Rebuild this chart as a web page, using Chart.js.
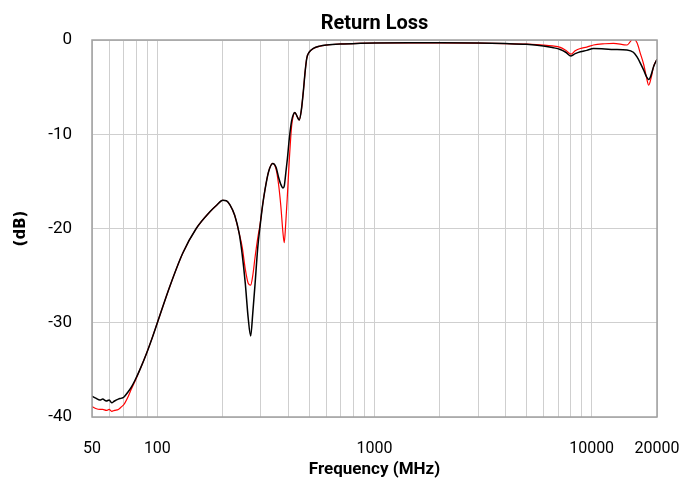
<!DOCTYPE html>
<html>
<head>
<meta charset="utf-8">
<script src="https://cdn.jsdelivr.net/npm/chart.js@4/dist/chart.umd.min.js"></script>
<style>
html,body{margin:0;padding:0;background:#fff;}
canvas{display:block;}
</style>
</head>
<body>
<canvas id="c" width="693" height="485"></canvas>
<script>
const chartTitle = "Return Loss";
const xTitle = "Frequency (MHz)";
const yTitle = "(dB)";
const xLabelTicks = [50, 100, 1000, 10000, 20000];
const xGridTicks = [50,60,70,80,90,100,200,300,400,500,600,700,800,900,1000,2000,3000,4000,5000,6000,7000,8000,9000,10000,20000];
const yTicks = [0, -10, -20, -30, -40];

const freqMHz = [50,52,54.4,56,58.2,60,61.6,63.5,66.1,68.5,70,73.5,76,78.9,83,89.3,95,100,114.3,131,151,175,188,200,208,216,227,238,246,254,262,269,275,282,290,297,305,313,325,340,352,361,370,379,384,390,397,405,415,423,430,440,450,460,470,480,488,500,523,560,603,700,860,1000,1500,2000,3000,4000,5000,6000,6600,7170,7600,8035,8400,8870,9500,10200,11500,12600,14550,15560,16180,16800,17370,17900,18320,18800,19300,20000];

const blackDB = [-37.8,-38.0,-38.2,-38.1,-38.3,-38.2,-38.5,-38.3,-38.1,-38.0,-37.9,-37.3,-36.8,-36.1,-35.0,-33.2,-31.5,-30.0,-26.1,-22.6,-20.0,-18.2,-17.5,-17.0,-17.05,-17.5,-18.6,-20.5,-22.8,-25.8,-29.5,-31.4,-29.0,-25.8,-22.0,-19.8,-17.6,-15.9,-14.0,-13.1,-13.5,-14.5,-15.3,-15.7,-15.5,-14.2,-12.6,-10.5,-8.6,-7.9,-7.7,-8.1,-8.5,-7.5,-5.5,-3.2,-1.9,-1.3,-0.9,-0.65,-0.53,-0.42,-0.35,-0.32,-0.3,-0.3,-0.33,-0.38,-0.46,-0.64,-0.8,-1.0,-1.3,-1.7,-1.45,-1.24,-1.1,-0.9,-0.95,-1.0,-1.06,-1.3,-1.8,-2.5,-3.2,-3.9,-4.2,-3.7,-2.8,-2.05];

const redDB = [-38.9,-39.1,-39.2,-39.2,-39.3,-39.2,-39.4,-39.3,-39.2,-38.9,-38.7,-37.8,-37.0,-36.2,-35.0,-33.2,-31.5,-30.0,-26.1,-22.6,-20.0,-18.2,-17.5,-17.0,-17.05,-17.5,-18.6,-20.5,-22.0,-24.3,-25.8,-26.0,-25.0,-23.0,-21.0,-19.6,-17.6,-15.9,-14.0,-13.1,-13.7,-15.2,-17.5,-20.5,-21.5,-19.5,-16.5,-12.8,-9.2,-8.0,-7.7,-8.1,-8.5,-7.5,-5.5,-3.2,-1.9,-1.3,-0.9,-0.65,-0.53,-0.42,-0.35,-0.32,-0.3,-0.3,-0.33,-0.38,-0.44,-0.53,-0.62,-0.78,-1.1,-1.5,-1.15,-0.9,-0.75,-0.53,-0.4,-0.35,-0.53,0.15,-0.3,-1.5,-2.6,-4.0,-4.8,-4.0,-2.8,-2.05];

const FONT = "'Roboto', 'Liberation Sans', sans-serif";

const frame = {
  id: 'frame',
  afterDatasetsDraw(chart) {
    const a = chart.chartArea, ctx = chart.ctx;
    ctx.save();
    ctx.strokeStyle = '#a0a0a0';
    ctx.lineWidth = 1.5;
    ctx.strokeRect(a.left, a.top, a.right - a.left, a.bottom - a.top);
    ctx.restore();
  }
};

new Chart(document.getElementById('c'), {
  type: 'line',
  data: {
    datasets: [
      {
        label: 'black',
        data: freqMHz.map((f, i) => ({x: f, y: blackDB[i]})),
        borderColor: '#000000',
        borderWidth: 1.5,
        pointRadius: 0,
        cubicInterpolationMode: 'monotone',
        fill: false
      },
      {
        label: 'red',
        data: freqMHz.map((f, i) => ({x: f, y: redDB[i]})),
        borderColor: '#ff0000',
        borderWidth: 1.2,
        pointRadius: 0,
        cubicInterpolationMode: 'monotone',
        fill: false
      }
    ]
  },
  options: {
    responsive: false,
    animation: false,
    devicePixelRatio: 1,
    layout: {padding: {left: 0, right: 36, top: 0, bottom: 0}},
    plugins: {
      legend: {display: false},
      tooltip: {enabled: false},
      title: {
        display: true,
        fullSize: false,
        text: chartTitle,
        color: '#000',
        font: {family: FONT, size: 20, weight: 'bold'},
        padding: {top: 12, bottom: 4}
      }
    },
    scales: {
      x: {
        type: 'logarithmic',
        min: 50,
        max: 20000,
        afterBuildTicks: s => { s.ticks = xGridTicks.map(v => ({value: v})); },
        afterFit: s => { s.height = 68; s.paddingLeft = 0; s.paddingRight = 0; },
        grid: {color: '#cfcfcf', lineWidth: 1, drawTicks: false},
        border: {display: false},
        ticks: {
          autoSkip: false,
          maxRotation: 0,
          padding: 22,
          color: '#000',
          font: {family: FONT, size: 16},
          callback: v => xLabelTicks.includes(v) ? String(v) : ''
        },
        title: {
          display: true,
          text: xTitle,
          color: '#000',
          font: {family: FONT, size: 17, weight: 'bold'},
          padding: {top: 0, bottom: 5}
        }
      },
      y: {
        min: -40,
        max: 0,
        afterBuildTicks: s => { s.ticks = yTicks.map(v => ({value: v})); },
        afterFit: s => { s.width = 92; },
        grid: {color: '#cfcfcf', lineWidth: 1, drawTicks: false},
        border: {display: false},
        ticks: {
          padding: 20,
          color: '#000',
          font: {family: FONT, size: 17},
          callback: v => String(v)
        },
        title: {
          display: true,
          text: yTitle,
          color: '#000',
          font: {family: "'DejaVu Sans', 'Liberation Sans', sans-serif", size: 15, weight: 'bold'},
          padding: {top: 12, bottom: 0}
        }
      }
    }
  },
  plugins: [frame]
});
</script>
</body>
</html>
